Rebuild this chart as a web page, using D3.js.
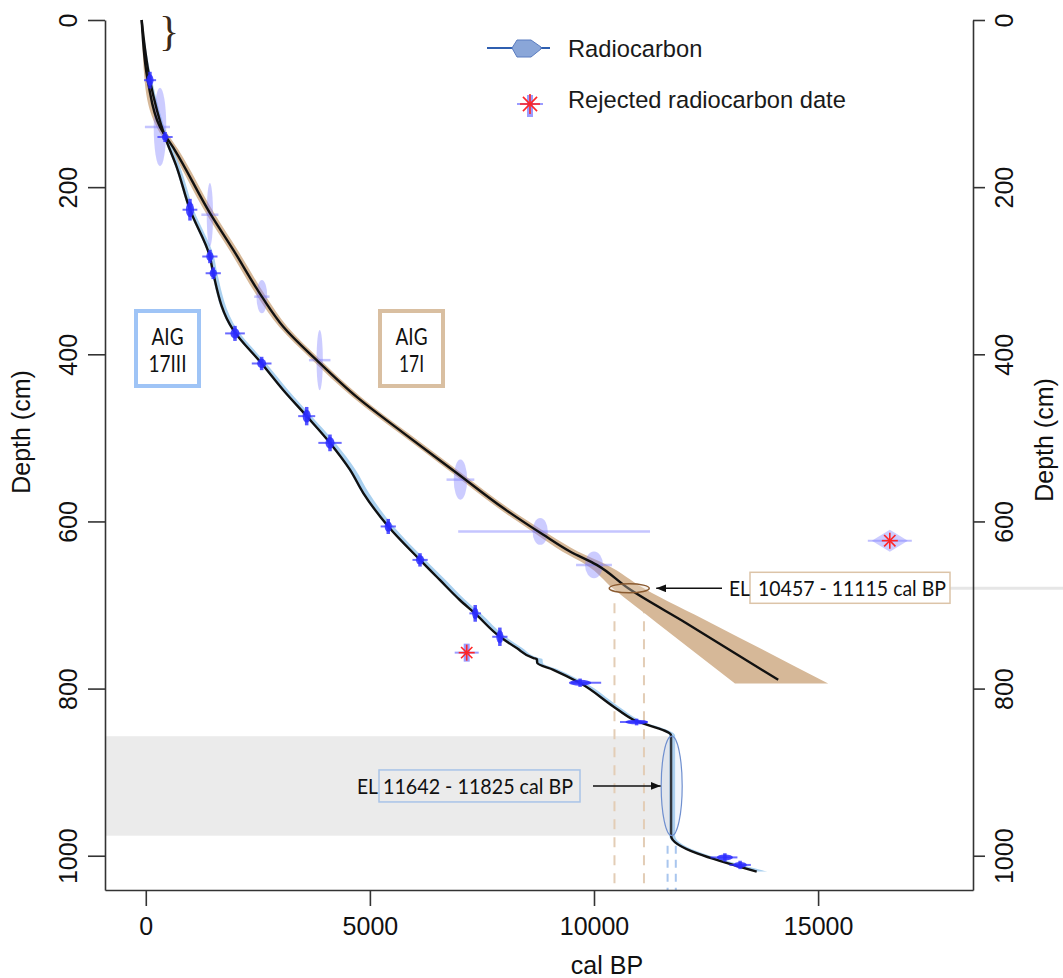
<!DOCTYPE html>
<html><head><meta charset="utf-8">
<script src="https://cdn.jsdelivr.net/npm/d3@7"></script>
<style>
html,body{margin:0;padding:0;background:#fff;}
svg{display:block;}
</style></head>
<body>
<svg id="chart" width="1063" height="978"></svg>
<script>
// ---------------- DATA ----------------
const xTicks = [0, 5000, 10000, 15000];
const yTicks = [0, 200, 400, 600, 800, 1000];

// AIG 17III age-depth model (mean)
const lineIII_depth = [0, 72, 140, 176, 227, 283, 303, 371, 411, 443, 474, 506, 538, 566, 606, 646, 670, 694, 710, 738, 751.5, 763.5, 764.7, 769.5, 777.5, 793.4, 821.4, 837.3, 856, 976, 1019];
const lineIII_age   = [-92, 93, 430, 690, 986, 1430, 1505, 1952, 2585, 3070, 3590, 4110, 4555, 4853, 5410, 6118, 6560, 7006, 7345, 7903, 8275, 8650, 8725, 8735, 9092, 9688, 10431, 10877, 11720, 11720, 13630];
const bandIII_lo    = [-92, 70, 400, 660, 955, 1400, 1475, 1920, 2555, 3040, 3560, 4080, 4525, 4823, 5380, 6088, 6530, 6976, 7315, 7873, 8245, 8620, 8695, 8705, 9062, 9658, 10401, 10847, 11680, 11680, 13600];
const bandIII_hi    = [-92, 140, 490, 770, 1070, 1520, 1595, 2050, 2690, 3180, 3700, 4230, 4680, 4980, 5530, 6240, 6690, 7130, 7470, 8030, 8400, 8770, 8850, 8860, 9210, 9810, 10550, 11000, 11810, 11810, 13870];

// AIG 17I age-depth model
const lineI_depth = [0, 76, 128, 155, 231, 275, 331, 367, 407, 451, 494, 542, 584, 616, 636, 652, 680, 722, 789.5];
const lineI_age   = [-92, 56, 317, 640, 1432, 1952, 2590, 3068, 3813, 4705, 5745, 6937, 7975, 8870, 9465, 10060, 10765, 12070, 14110];
const bandI_depth = [0, 76, 128, 155, 231, 275, 331, 367, 407, 451, 494, 542, 584, 616, 636, 652, 680, 722, 794];
const bandI_lo    = [-92, -20, 240, 560, 1340, 1860, 2495, 2975, 3720, 4610, 5645, 6835, 7860, 8730, 9290, 9830, 10420, 11420, 13145];
const bandI_hi    = [-92, 130, 395, 725, 1525, 2045, 2685, 3160, 3905, 4800, 5845, 7040, 8090, 9010, 9640, 10290, 11110, 12630, 15225];

// Radiocarbon dates, AIG 17III
const datesIII_depth = [72, 140, 227, 283, 303, 375, 411, 474, 506, 606, 646, 710, 738, 793, 840, 1002, 1011];
const datesIII_age   = [93, 430, 986, 1430, 1505, 1990, 2585, 3590, 4110, 5410, 6118, 7350, 7900, 9690, 10950, 12920, 13260];
const datesIII_lo    = [-40, 260, 820, 1260, 1335, 1770, 2365, 3400, 3850, 5240, 5950, 7220, 7730, 9490, 10580, 12600, 13020];
const datesIII_hi    = [230, 600, 1150, 1600, 1675, 2210, 2805, 3780, 4370, 5580, 6290, 7480, 8070, 10160, 11200, 13200, 13500];
const datesIII_thick = [10, 6, 13, 8, 7, 9, 8, 11, 10, 9, 8, 10, 11, 5, 4, 5, 5];
const datesIII_blob  = [80, 70, 90, 80, 80, 100, 100, 90, 100, 80, 90, 70, 80, 250, 250, 180, 150];

// Radiocarbon dates, AIG 17I
const datesI_depth = [128, 233, 331, 407, 550, 612, 652];
const datesI_age   = [317, 1430, 2590, 3880, 7020, 8800, 10000];
const datesI_lo    = [-20, 1240, 2420, 3640, 6710, 6970, 9600];
const datesI_hi    = [540, 1620, 2760, 4120, 7330, 11250, 10400];
const datesI_thick = [47, 38, 20, 36, 24, 16, 16];
const datesI_blob  = [140, 70, 120, 70, 150, 170, 200];

// Rejected radiocarbon dates
const rejected_core  = ["17III", "17I"];
const rejected_depth = [757, 623];
const rejected_age   = [7160, 16600];

// Event layers
const elI_depth = 680;
const elI_range = [10457, 11115];
const elIII_depth = [857, 976];
const elIII_range = [11642, 11825];

const legendLabels = ["Radiocarbon", "Rejected radiocarbon date"];
const coreLabels = [["AIG", "17III"], ["AIG", "17I"]];

// ---------------- DRAW ----------------
const fontAxis = "'Liberation Sans', Arial, sans-serif";
const fontNote = "Lato, 'Open Sans', sans-serif";
const svg = d3.select("#chart");
svg.append("rect").attr("width", 1063).attr("height", 978).attr("fill", "#fff");

const x = d3.scaleLinear().domain([-910, 18456]).range([105, 973]);
const y = d3.scaleLinear().domain([0, 1041]).range([20, 890]);
const idx = n => d3.range(n);

// grey event-layer band
const elIII_mid = (elIII_range[0] + elIII_range[1]) / 2;
svg.append("rect")
  .attr("x", x.range()[0]).attr("y", y(elIII_depth[0]))
  .attr("width", x(elIII_mid) - x.range()[0])
  .attr("height", y(elIII_depth[1]) - y(elIII_depth[0]))
  .attr("fill", "#ebebeb");

// dashed projection lines
elI_range.forEach(v => {
  svg.append("line").attr("x1", x(v)).attr("x2", x(v))
    .attr("y1", y(elI_depth) + 15).attr("y2", y.range()[1])
    .attr("stroke", "#e3cdb6").attr("stroke-width", 2).attr("stroke-dasharray", "10,8");
});
elIII_range.forEach(v => {
  svg.append("line").attr("x1", x(v)).attr("x2", x(v))
    .attr("y1", y(elIII_depth[1]) + 10).attr("y2", y.range()[1])
    .attr("stroke", "#a9c6ee").attr("stroke-width", 2).attr("stroke-dasharray", "8,6");
});

// bands
const areaI = d3.area().curve(d3.curveMonotoneY)
  .y(i => y(bandI_depth[i])).x0(i => x(bandI_lo[i])).x1(i => x(bandI_hi[i]));
svg.append("path").attr("d", areaI(idx(bandI_depth.length))).attr("fill", "#d6b898");

const areaIII = d3.area().curve(d3.curveMonotoneY)
  .y(i => y(lineIII_depth[i])).x0(i => x(bandIII_lo[i])).x1(i => x(bandIII_hi[i]));
svg.append("path").attr("d", areaIII(idx(lineIII_depth.length))).attr("fill", "#a9d0ef");

// 17I dates (lavender, translucent)
const lav = "#7f7fff";
idx(datesI_depth.length).forEach(i => {
  const cx = x(datesI_age[i]), cy = y(datesI_depth[i]);
  svg.append("line").attr("x1", x(datesI_lo[i])).attr("x2", x(datesI_hi[i]))
    .attr("y1", cy).attr("y2", cy).attr("stroke", lav).attr("stroke-opacity", 0.45).attr("stroke-width", 2.5);
  svg.append("ellipse").attr("cx", cx).attr("cy", cy)
    .attr("rx", x(datesI_age[i] + datesI_blob[i]) - cx)
    .attr("ry", y(datesI_depth[i] + datesI_thick[i]) - cy)
    .attr("fill", lav).attr("fill-opacity", 0.4);
});

// black model lines
const lineIII = d3.line().curve(d3.curveMonotoneY).x(i => x(lineIII_age[i])).y(i => y(lineIII_depth[i]));
const lineI = d3.line().curve(d3.curveMonotoneY).x(i => x(lineI_age[i])).y(i => y(lineI_depth[i]));
svg.append("path").attr("d", lineI(idx(lineI_depth.length))).attr("fill", "none").attr("stroke", "#111").attr("stroke-width", 2.4);
svg.append("path").attr("d", lineIII(idx(lineIII_depth.length))).attr("fill", "none").attr("stroke", "#111").attr("stroke-width", 2.4);

// 17III dates (dark blue)
const dblue = "#2b2bff";
idx(datesIII_depth.length).forEach(i => {
  const cx = x(datesIII_age[i]), cy = y(datesIII_depth[i]);
  svg.append("line").attr("x1", x(datesIII_lo[i])).attr("x2", x(datesIII_hi[i]))
    .attr("y1", cy).attr("y2", cy).attr("stroke", dblue).attr("stroke-opacity", 0.7).attr("stroke-width", 2);
  svg.append("line").attr("x1", cx).attr("x2", cx)
    .attr("y1", y(datesIII_depth[i] - datesIII_thick[i])).attr("y2", y(datesIII_depth[i] + datesIII_thick[i]))
    .attr("stroke", dblue).attr("stroke-opacity", 0.8).attr("stroke-width", 3.5);
  svg.append("ellipse").attr("cx", cx).attr("cy", cy)
    .attr("rx", x(datesIII_age[i] + datesIII_blob[i]) - cx)
    .attr("ry", (y(datesIII_depth[i] + datesIII_thick[i]) - cy) * 0.7)
    .attr("fill", dblue).attr("fill-opacity", 0.85);
});

// rejected dates
function star(g, cx, cy, r) {
  [0, 45, 90, 135].forEach(a => {
    const t = a * Math.PI / 180;
    g.append("line").attr("x1", cx - r * Math.cos(t)).attr("y1", cy - r * Math.sin(t))
      .attr("x2", cx + r * Math.cos(t)).attr("y2", cy + r * Math.sin(t))
      .attr("stroke", "#ff2626").attr("stroke-width", 1.6);
  });
}
idx(rejected_age.length).forEach(i => {
  const cx = x(rejected_age[i]), cy = y(rejected_depth[i]);
  if (rejected_core[i] === "17I") {
    svg.append("path").attr("d", `M${cx - 18},${cy} L${cx},${cy - 11} L${cx + 18},${cy} L${cx},${cy + 11} Z`)
      .attr("fill", lav).attr("fill-opacity", 0.4);
    svg.append("line").attr("x1", cx - 22).attr("x2", cx + 22).attr("y1", cy).attr("y2", cy)
      .attr("stroke", lav).attr("stroke-opacity", 0.5).attr("stroke-width", 2);
  } else {
    svg.append("rect").attr("x", cx - 3).attr("y", cy - 9).attr("width", 6).attr("height", 18)
      .attr("fill", "#5a5aff").attr("fill-opacity", 0.6);
    svg.append("line").attr("x1", cx - 12).attr("x2", cx + 12).attr("y1", cy).attr("y2", cy)
      .attr("stroke", "#5a5aff").attr("stroke-opacity", 0.6).attr("stroke-width", 2);
  }
  star(svg, cx, cy, 8);
});

// event-layer ellipses
const elI_mid = (elI_range[0] + elI_range[1]) / 2;
svg.append("ellipse").attr("cx", x(elI_mid)).attr("cy", y(elI_depth)).attr("rx", 20).attr("ry", 4.5)
  .attr("fill", "#e8d6c2").attr("fill-opacity", 0.35).attr("stroke", "#8a5a30").attr("stroke-width", 1.5);
svg.append("ellipse").attr("cx", x(elIII_mid)).attr("cy", (y(elIII_depth[0]) + y(elIII_depth[1])) / 2)
  .attr("rx", 10.5).attr("ry", (y(elIII_depth[1]) - y(elIII_depth[0])) / 2)
  .attr("fill", "#b7cdef").attr("fill-opacity", 0.2).attr("stroke", "#6f8fcf").attr("stroke-width", 1.2);

// arrows
const defs = svg.append("defs");
defs.append("marker").attr("id", "ah").attr("viewBox", "0 0 10 8").attr("refX", 10).attr("refY", 4)
  .attr("markerWidth", 10).attr("markerHeight", 8).attr("markerUnits", "userSpaceOnUse").attr("orient", "auto")
  .append("path").attr("d", "M0,0 L10,4 L0,8 Z").attr("fill", "#111");

function note(xp, yp, txt, len) {
  svg.append("text").attr("x", xp).attr("y", yp).attr("font-family", fontNote).attr("font-size", 22)
    .attr("fill", "#111").attr("textLength", len).attr("lengthAdjust", "spacingAndGlyphs").text(txt);
}

// EL 17I label
const yEL1 = y(elI_depth);
svg.append("line").attr("x1", 950).attr("x2", 1063).attr("y1", yEL1).attr("y2", yEL1)
  .attr("stroke", "#e6e6e6").attr("stroke-width", 3);
svg.append("line").attr("x1", 722).attr("x2", x(elI_mid) + 27).attr("y1", yEL1).attr("y2", yEL1)
  .attr("stroke", "#111").attr("stroke-width", 1.6).attr("marker-end", "url(#ah)");
svg.append("rect").attr("x", 750).attr("y", yEL1 - 16).attr("width", 200).attr("height", 31)
  .attr("fill", "#fff").attr("stroke", "#dcc4a8").attr("stroke-width", 1.5);
note(729, yEL1 + 8, "EL", 21);
note(758, yEL1 + 8, `${elI_range[0]} - ${elI_range[1]} cal BP`, 188);

// EL 17III label
const yEL3 = (y(elIII_depth[0]) + y(elIII_depth[1])) / 2;
svg.append("line").attr("x1", 593).attr("x2", x(elIII_mid) - 11).attr("y1", yEL3).attr("y2", yEL3)
  .attr("stroke", "#111").attr("stroke-width", 1.6).attr("marker-end", "url(#ah)");
svg.append("rect").attr("x", 379).attr("y", yEL3 - 16).attr("width", 201).attr("height", 32)
  .attr("fill", "none").attr("stroke", "#a9c4e8").attr("stroke-width", 1.5);
note(357, yEL3 + 8, "EL", 21);
note(383, yEL3 + 8, `${elIII_range[0]} - ${elIII_range[1]} cal BP`, 190);

// core label boxes
const coreBoxes = [{x: 136, stroke: "#9fc4f6", w: [32, 38]}, {x: 380, stroke: "#d9bfa1", w: [32, 25]}];
coreBoxes.forEach((b, i) => {
  svg.append("rect").attr("x", b.x).attr("y", 311).attr("width", 63).attr("height", 75)
    .attr("fill", "#fff").attr("stroke", b.stroke).attr("stroke-width", 4);
  coreLabels[i].forEach((t, j) => {
    svg.append("text").attr("x", b.x + 31.5 - b.w[j] / 2).attr("y", 345 + j * 27)
      .attr("font-family", fontNote).attr("font-size", 23).attr("fill", "#111")
      .attr("textLength", b.w[j]).attr("lengthAdjust", "spacingAndGlyphs").text(t);
  });
});

// brace at top
svg.append("text").attr("x", 159).attr("y", 45).attr("font-family", "'Liberation Serif', serif").attr("font-size", 42)
  .attr("fill", "#3a2a1a").text("}");

// axes
function styleAxis(g) {
  g.attr("font-family", fontAxis).attr("font-size", 25);
  g.selectAll("path,line").attr("stroke", "#333").attr("stroke-width", 1.6);
  g.selectAll("text").attr("fill", "#111");
}
const gB = svg.append("g").attr("transform", `translate(0,${y.range()[1]})`)
  .call(d3.axisBottom(x).tickValues(xTicks).tickFormat(d3.format("d")).tickSize(16).tickSizeOuter(0).tickPadding(11));
styleAxis(gB);

const gL = svg.append("g").attr("transform", `translate(${x.range()[0]},0)`)
  .call(d3.axisLeft(y).tickValues(yTicks).tickFormat(d3.format("d")).tickSize(17).tickSizeOuter(0));
styleAxis(gL);
gL.selectAll(".tick text").attr("x", 0).attr("dy", null).attr("text-anchor", "middle")
  .attr("transform", "translate(-28,0) rotate(-90)");

const gR = svg.append("g").attr("transform", `translate(${x.range()[1]},0)`)
  .call(d3.axisRight(y).tickValues(yTicks).tickFormat(d3.format("d")).tickSize(12).tickSizeOuter(0));
styleAxis(gR);
gR.selectAll(".tick text").attr("x", 0).attr("dy", null).attr("text-anchor", "middle")
  .attr("transform", "translate(40,0) rotate(-90)");

// axis titles
svg.append("text").attr("x", 607).attr("y", 974).attr("text-anchor", "middle")
  .attr("font-family", fontAxis).attr("font-size", 25).attr("fill", "#111").text("cal BP");
svg.append("text").attr("transform", "translate(30,432) rotate(-90)").attr("text-anchor", "middle")
  .attr("font-family", fontAxis).attr("font-size", 25).attr("fill", "#111").text("Depth (cm)");
svg.append("text").attr("transform", "translate(1053,440) rotate(-90)").attr("text-anchor", "middle")
  .attr("font-family", fontAxis).attr("font-size", 25).attr("fill", "#111").text("Depth (cm)");

// legend
const lg = svg.append("g");
lg.append("line").attr("x1", 487).attr("x2", 550).attr("y1", 48).attr("y2", 48).attr("stroke", "#2f5fb0").attr("stroke-width", 2);
lg.append("path").attr("d", "M512,48 L517,40 L531,40 L541,47 L541,49 L531,57 L517,57 Z")
  .attr("fill", "#8aa6d8").attr("stroke", "#5a7cc0").attr("stroke-width", 1);
lg.append("rect").attr("x", 527).attr("y", 95).attr("width", 6).attr("height", 22).attr("fill", "#5a5aff").attr("fill-opacity", 0.6);
lg.append("line").attr("x1", 517).attr("x2", 543).attr("y1", 104).attr("y2", 104).attr("stroke", "#5a5aff").attr("stroke-opacity", 0.6).attr("stroke-width", 2);
star(lg, 530, 104, 10);
legendLabels.forEach((t, i) => {
  lg.append("text").attr("x", 568).attr("y", 57 + i * 51).attr("font-family", fontAxis).attr("font-size", 23.7)
    .attr("fill", "#1a1a1a").text(t);
});
</script>
</body></html>
